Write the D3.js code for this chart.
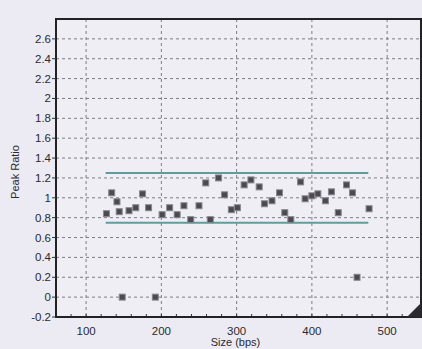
<!DOCTYPE html>
<html>
<head>
<meta charset="utf-8">
<script src="https://cdn.jsdelivr.net/npm/d3@7"></script>
<style>
  html, body { margin: 0; padding: 0; background: #ecebf3; }
  svg { display: block; font-family: "Liberation Sans", Arial, sans-serif; }
</style>
</head>
<body>
<div id="chart"></div>
<script>
// fragment sizes (bps) and their peak ratios
const sizes = [127, 134, 141, 144, 157, 166, 175, 183, 201, 211, 221, 230, 239, 250, 259, 265,
  276, 284, 293, 301, 310, 319, 330, 337, 347, 357, 364, 372, 385, 391, 400, 408, 418, 426,
  435, 446, 454, 460, 476, 148, 192];
const peakRatios = [0.84, 1.05, 0.96, 0.86, 0.87, 0.9, 1.04, 0.9, 0.83, 0.9, 0.83, 0.92, 0.78, 0.92,
  1.15, 0.78, 1.2, 1.03, 0.88, 0.9, 1.13, 1.18, 1.11, 0.94, 0.97, 1.05, 0.85, 0.78, 1.16, 0.99,
  1.02, 1.04, 0.97, 1.06, 0.85, 1.13, 1.05, 0.2, 0.89, 0, 0];

// acceptance band
const bandLimits = [1.25, 0.75];
const bandRange = [126, 475];

const xTicks = [100, 200, 300, 400, 500];
const yTicks = [-0.2, 0, 0.2, 0.4, 0.6, 0.8, 1, 1.2, 1.4, 1.6, 1.8, 2, 2.2, 2.4, 2.6];

const W = 422, H = 349;
const margin = { top: 19, right: 1, bottom: 32, left: 56 };
const iw = W - margin.left - margin.right;
const ih = H - margin.top - margin.bottom;

const x = d3.scaleLinear().domain([60, 545]).range([0, iw]);
const y = d3.scaleLinear().domain([-0.2, 2.8]).range([ih, 0]);

const svg = d3.select("#chart").append("svg")
  .attr("width", W)
  .attr("height", H);

const g = svg.append("g")
  .attr("transform", `translate(${margin.left},${margin.top})`);

g.append("rect")
  .attr("width", iw)
  .attr("height", ih)
  .attr("fill", "#efeef5");

// dashed grid
g.append("g")
  .selectAll("line")
  .data(yTicks.slice(1))
  .join("line")
  .attr("x1", 0).attr("x2", iw)
  .attr("y1", d => y(d)).attr("y2", d => y(d))
  .attr("stroke", "#7d7d86")
  .attr("stroke-width", 1)
  .attr("stroke-dasharray", "3,3");

g.append("g")
  .selectAll("line")
  .data(xTicks)
  .join("line")
  .attr("x1", d => x(d)).attr("x2", d => x(d))
  .attr("y1", 0).attr("y2", ih)
  .attr("stroke", "#7d7d86")
  .attr("stroke-width", 1)
  .attr("stroke-dasharray", "3,3");

// band lines
g.append("g")
  .selectAll("line")
  .data(bandLimits)
  .join("line")
  .attr("x1", x(bandRange[0])).attr("x2", x(bandRange[1]))
  .attr("y1", d => y(d)).attr("y2", d => y(d))
  .attr("stroke", "#5f9e98")
  .attr("stroke-width", 2);

// points
const pts = sizes.map((s, i) => ({ size: s, ratio: peakRatios[i] }));
g.append("g")
  .selectAll("rect")
  .data(pts)
  .join("rect")
  .attr("x", d => x(d.size) - 3)
  .attr("y", d => y(d.ratio) - 3)
  .attr("width", 6)
  .attr("height", 6)
  .attr("fill", "#4c4a50")
  .attr("stroke", "#8a8890")
  .attr("stroke-width", 1);

// minor ticks on bottom axis
g.append("g")
  .selectAll("line")
  .data(d3.range(80, 545, 20))
  .join("line")
  .attr("x1", d => x(d)).attr("x2", d => x(d))
  .attr("y1", ih).attr("y2", ih - 3)
  .attr("stroke", "#333");

// frame
g.append("rect")
  .attr("width", iw)
  .attr("height", ih)
  .attr("fill", "none")
  .attr("stroke", "#222")
  .attr("stroke-width", 2);

// y tick labels
g.append("g")
  .selectAll("g")
  .data(yTicks)
  .join("g")
  .attr("transform", d => `translate(0,${y(d)})`)
  .call(t => t.append("line").attr("x1", -4).attr("x2", 0).attr("stroke", "#333"))
  .call(t => t.append("text")
    .attr("x", -5)
    .attr("dy", "0.35em")
    .attr("text-anchor", "end")
    .attr("font-size", 11.5)
    .attr("fill", "#2a2a2e")
    .text(d => String(d)));

// x tick labels
g.append("g")
  .selectAll("text")
  .data(xTicks)
  .join("text")
  .attr("x", d => x(d))
  .attr("y", ih + 18)
  .attr("text-anchor", "middle")
  .attr("font-size", 11.5)
  .attr("fill", "#2a2a2e")
  .text(d => d);

// axis titles
svg.append("text")
  .attr("x", margin.left + iw / 2 - 3)
  .attr("y", H - 3)
  .attr("text-anchor", "middle")
  .attr("font-size", 11)
  .attr("fill", "#2a2a2e")
  .text("Size (bps)");

svg.append("text")
  .attr("transform", `translate(19,${margin.top + ih / 2 + 4}) rotate(-90)`)
  .attr("text-anchor", "middle")
  .attr("font-size", 11)
  .attr("fill", "#2a2a2e")
  .text("Peak Ratio");

// resize grip in the corner
svg.append("path")
  .attr("d", `M${W - 1},${margin.top + ih - 14} L${W - 1},${margin.top + ih} L${W - 15},${margin.top + ih} Z`)
  .attr("fill", "#2a2a30");
</script>
</body>
</html>
